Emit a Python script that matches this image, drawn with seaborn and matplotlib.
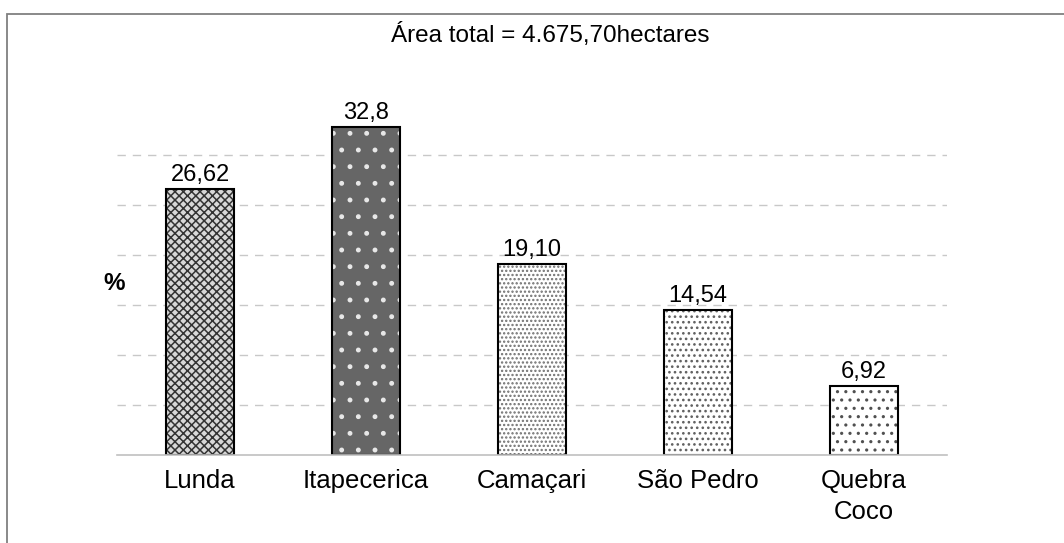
import matplotlib
matplotlib.use('Agg')
import matplotlib.pyplot as plt
from matplotlib.patches import Rectangle
import seaborn as sns

# dados do grafico
locais = ['Lunda', 'Itapecerica', 'Camaçari', 'São Pedro', 'Quebra\nCoco']
percentuais = [26.62, 32.8, 19.10, 14.54, 6.92]
rotulos = ['26,62', '32,8', '19,10', '14,54', '6,92']
titulo = 'Área total = 4.675,70hectares'

sns.set_style('white')
plt.rcParams['font.family'] = ['Liberation Sans', 'DejaVu Sans']
plt.rcParams['text.color'] = 'black'
plt.rcParams['xtick.labelcolor'] = 'black'
plt.rcParams['hatch.linewidth'] = 1.1

fig = plt.figure(figsize=(10.64, 5.43), dpi=100)
ax = fig.add_axes([117 / 1064, 1 - 455 / 543, 830 / 1064, 350 / 543])

# barras com texturas (cor da textura = edgecolor)
sns.barplot(x=locais, y=percentuais, color='white', width=0.41,
            linewidth=0, ax=ax)
estilos = [('#d8d8d8', '#333333', 'xxxx'),
           ('#666666', '#e8e8e8', '.'),
           ('white', '#707070', '....'),
           ('white', '#606060', '...'),
           ('white', '#505050', '..')]
for barra, (fc, hc, h) in zip(ax.patches, estilos):
    barra.set_facecolor(fc)
    barra.set_edgecolor(hc)
    barra.set_hatch(h)

# contorno preto por cima
sns.barplot(x=locais, y=percentuais, fill=False, width=0.41,
            edgecolor='black', linewidth=1.5, ax=ax)

ax.bar_label(ax.containers[0], labels=rotulos, padding=2, fontsize=17,
             color='black')

ax.set_ylim(0, 35)
ax.set_xlim(-0.5, 4.5)
ax.set_yticks([5, 10, 15, 20, 25, 30])
ax.set_yticklabels([])
ax.tick_params(axis='y', length=0)
ax.grid(axis='y', color='#c8c8c8', linewidth=1, linestyle=(0, (6, 5)))
ax.set_axisbelow(True)

ax.set_xticks(range(5))
ax.set_xticklabels(locais, fontsize=18.5, color='black', linespacing=1.35)
ax.set_xticks([-0.5, 0.5, 1.5, 2.5, 3.5, 4.5], minor=True)
ax.tick_params(axis='x', which='major', length=0, pad=10)
ax.tick_params(axis='x', which='minor', length=6, width=1, color='#c0c0c0',
               direction='out')
for lado in ['left', 'top', 'right']:
    ax.spines[lado].set_visible(False)
ax.spines['bottom'].set_color('#c0c0c0')
ax.spines['bottom'].set_linewidth(1.2)
ax.set_xlabel('')
ax.set_ylabel('')

fig.text(550 / 1064, 1 - 42 / 543, titulo, ha='center', va='baseline',
         fontsize=17.5, color='black')
fig.text(114 / 1064, 1 - 284 / 543, '%', ha='center', va='center',
         fontsize=17.5, fontweight='bold', color='black')

# moldura
fig.patches.append(Rectangle((7 / 1064, -0.2), 1.2, 1.2 - 14 / 543,
                             transform=fig.transFigure, fill=False,
                             edgecolor='#808080', linewidth=1.3))

fig.savefig('out.png', dpi=100)
